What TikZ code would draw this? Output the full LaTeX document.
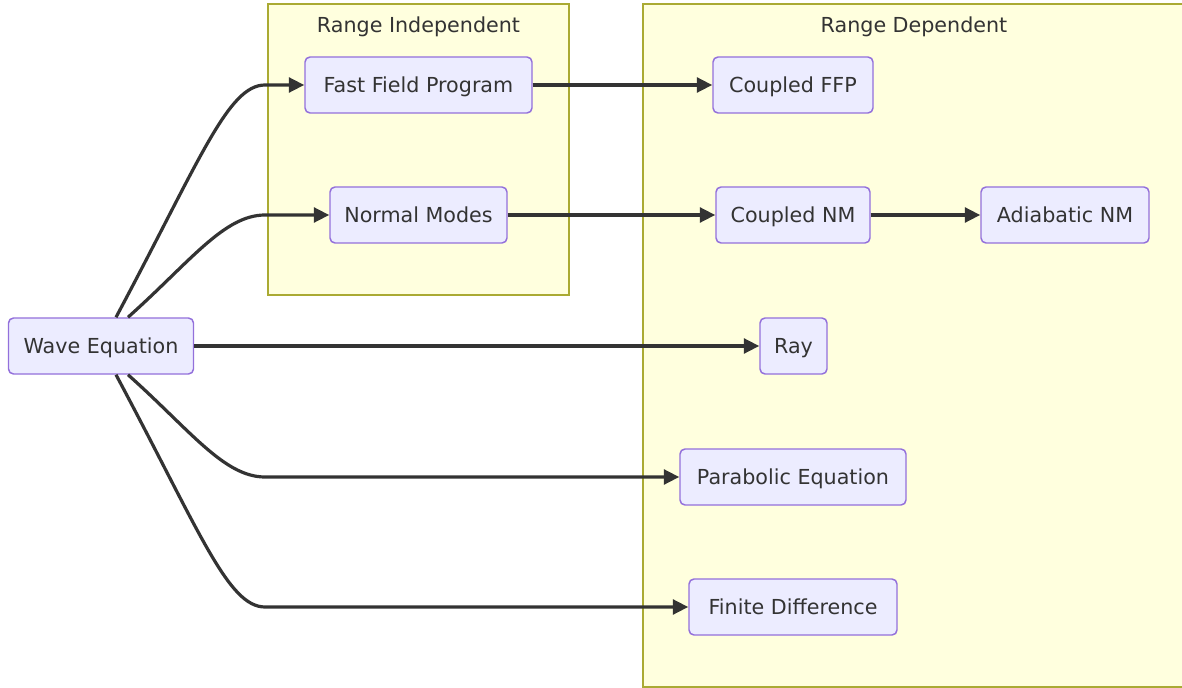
\documentclass[tikz,border=0pt]{standalone}
\usepackage{fontspec}
\setmainfont{DejaVu Sans}
\usetikzlibrary{arrows.meta}
\definecolor{nodefill}{HTML}{ECECFF}
\definecolor{nodeline}{HTML}{9370DB}
\definecolor{clusterfill}{HTML}{FFFFDE}
\definecolor{clusterline}{HTML}{AAAA33}
\definecolor{ink}{HTML}{333333}
\tikzset{
  px/.style={x=0.75pt,y=-0.75pt},
  lbl/.style={text=ink,font=\fontsize{15.5}{18}\selectfont,text height=13pt,text depth=1.8pt},
  box/.style={lbl,draw=nodeline,fill=nodefill,line width=1.1pt,rounded corners=3.75pt,
    minimum height=42pt,inner sep=0pt},
  cluster/.style={draw=clusterline,fill=clusterfill,line width=1.1pt},
  ctitle/.style={lbl,inner sep=0pt},
  edge/.style={draw=ink,line width=2.4pt,-{Triangle[length=11.5pt,width=11pt]}},
}
\begin{document}
\begin{tikzpicture}[px]
\useasboundingbox (0,0) rectangle (1182,688);
\fill[white] (0,0) rectangle (1182,688);
% subgraphs
\draw[cluster] (268,4) rectangle (569,295);
\draw[cluster] (643,4) rectangle (1186,687);
\node[ctitle] (ri) at (418.5,25) {Range Independent};
\node[ctitle] (rd) at (914,25) {Range Dependent};
% nodes
\node[box,minimum width=138.75pt] (we)  at (101,346) {Wave Equation};
\node[box,minimum width=170.25pt] (ffp) at (418.5,85) {Fast Field Program};
\node[box,minimum width=132.75pt] (nm)  at (418.5,215) {Normal Modes};
\node[box,minimum width=120pt]    (cffp) at (793,85) {Coupled FFP};
\node[box,minimum width=115.5pt]  (cnm) at (793,215) {Coupled NM};
\node[box,minimum width=126pt]    (anm) at (1065,215) {Adiabatic NM};
\node[box,minimum width=50.25pt]  (ray) at (793.5,346) {Ray};
\node[box,minimum width=169.5pt]  (pe)  at (793,477) {Parabolic Equation};
\node[box,minimum width=156pt]    (fd)  at (793,607) {Finite Difference};
% connectors
\draw[edge] ([xshift=11.25pt]we.north) .. controls (200,160) and (228,85) .. (265,85) -- (ffp.west);
\draw[edge] ([xshift=20.25pt]we.north) .. controls (190,262) and (224,215) .. (265,215) -- (nm.west);
\draw[edge] (we.east) -- (ray.west);
\draw[edge] ([xshift=20.25pt]we.south) .. controls (190,430) and (224,477) .. (265,477) -- (pe.west);
\draw[edge] ([xshift=11.25pt]we.south) .. controls (200,532) and (228,607) .. (265,607) -- (fd.west);
\draw[edge] (ffp.east) -- (cffp.west);
\draw[edge] (nm.east) -- (cnm.west);
\draw[edge] (cnm.east) -- (anm.west);
\end{tikzpicture}
\end{document}
